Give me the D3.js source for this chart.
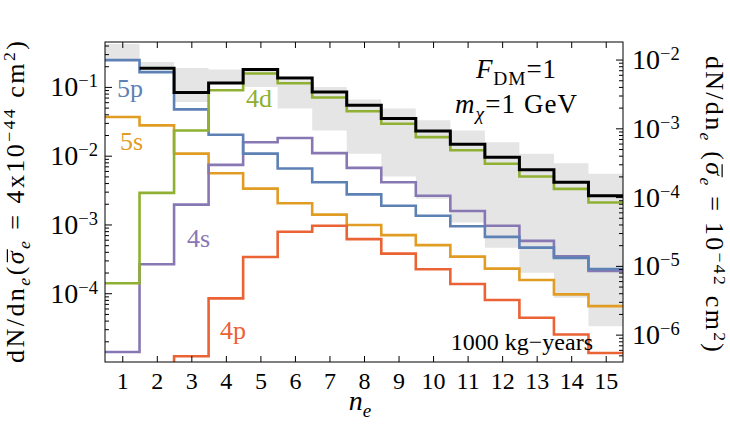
<!DOCTYPE html>
<html>
<head>
<meta charset="utf-8">
<script src="https://cdn.jsdelivr.net/npm/d3@7"></script>
<style>
  body { margin: 0; background: #fff; }
  text { font-family: "Liberation Serif", "DejaVu Serif", serif; }
  .axis path.domain { display: none; }
  .axis line { stroke: #000; stroke-width: 1; }
</style>
</head>
<body>
<div id="chart"></div>
<script>
// values, one per bin n_e = 1..15
var ne = d3.range(1, 16);
var total   = [null, 0.187, 0.0828, 0.114, 0.179, 0.135, 0.0845, 0.054, 0.0346, 0.0228, 0.0147, 0.0095, 0.00622, 0.0041, 0.00262];
var shell5p = [0.245, 0.164, 0.0472, 0.0202, 0.0107, 0.0065, 0.0041, 0.00274, 0.00187, 0.00134, 0.00094, 0.00066, 0.00046, 0.000327, 0.000225];
var shell5s = [0.0365, 0.0276, 0.0107, 0.00556, 0.00332, 0.00203, 0.00139, 0.00098, 0.0007, 0.0005, 0.000341, 0.000228, 0.000156, 0.0000964, 0.000065];
var shell4d = [0.00014, 0.00288, 0.0233, 0.0895, 0.157, 0.113, 0.070, 0.0442, 0.0292, 0.0186, 0.0120, 0.00762, 0.00497, 0.00329, 0.00209];
var shell4s = [0.000014, 0.000264, 0.00194, 0.00736, 0.0157, 0.0181, 0.0109, 0.00665, 0.0041, 0.00262, 0.00157, 0.000957, 0.000578, 0.000344, 0.000211];
var shell4p = [null, 0.000004, 0.0000121, 0.0000843, 0.000337, 0.000782, 0.000957, 0.000612, 0.000377, 0.000223, 0.000136, 0.0000796, 0.0000439, 0.0000251, 0.0000135];
// grey uncertainty band
var bandLow  = [0.245, 0.187, 0.0604, 0.114, 0.1, 0.0484, 0.0233, 0.0107, 0.00497, 0.00237, 0.00107, 0.00046, 0.000199, 0.0000859, 0.0000332];
var bandHigh = [0.42, 0.23, 0.189, 0.179, 0.175, 0.125, 0.1, 0.0655, 0.0484, 0.0327, 0.0233, 0.0157, 0.0107, 0.00778, 0.00544];

var xTicks = d3.range(1, 16);
var leftTicks = [1e-4, 1e-3, 1e-2, 1e-1];
var rightTicks = [1e-6, 1e-5, 1e-4, 1e-3, 1e-2];
var rightFactor = 0.04; // right axis = left axis * 4e-44/1e-42

var margin = { top: 42, left: 105, right: 107, bottom: 76 },
  width = 730 - margin.left - margin.right,
  height = 438 - margin.top - margin.bottom;

var svg = d3.select("#chart")
  .append("svg")
  .attr("width", 730)
  .attr("height", 438)
  .append("g")
  .attr("transform", "translate(" + margin.left + "," + margin.top + ")");

var xPositionScale = d3.scaleLinear().domain([0.5, 15.5]).range([0, width]);
var yPositionScale = d3.scaleLog().domain([1e-5, 0.45]).range([height, 0]);
var yRightScale = d3.scaleLog()
  .domain([1e-5 * rightFactor, 0.45 * rightFactor]).range([height, 0]);

svg.append("clipPath").attr("id", "plot-clip")
  .append("rect").attr("width", width).attr("height", height);

function steps(vals) {
  var pts = ne.map(function(n, i) { return { x: n - 0.5, v: vals[i] }; });
  pts.push({ x: ne[ne.length - 1] + 0.5, v: vals[vals.length - 1] });
  return pts;
}

var plot = svg.append("g").attr("clip-path", "url(#plot-clip)");

// grey band
var bandPts = ne.map(function(n, i) { return { x: n - 0.5, lo: bandLow[i], hi: bandHigh[i] }; });
bandPts.push({ x: 15.5, lo: bandLow[14], hi: bandHigh[14] });
var area = d3.area().curve(d3.curveStepAfter)
  .x(function(d) { return xPositionScale(d.x); })
  .y0(function(d) { return yPositionScale(d.lo); })
  .y1(function(d) { return yPositionScale(d.hi); });
plot.append("path").datum(bandPts)
  .attr("d", area)
  .attr("fill", "#e5e5e5");

var line = d3.line().curve(d3.curveStepAfter)
  .defined(function(d) { return d.v != null; })
  .x(function(d) { return xPositionScale(d.x); })
  .y(function(d) { return yPositionScale(d.v); });

var series = [
  { name: "5s", values: shell5s, color: "#E19C24" },
  { name: "4p", values: shell4p, color: "#EB6235" },
  { name: "4s", values: shell4s, color: "#8778B3" },
  { name: "5p", values: shell5p, color: "#5E81B5" },
  { name: "4d", values: shell4d, color: "#8FB032" },
  { name: "total", values: total, color: "#000" }
];

plot.selectAll(".series")
  .data(series)
  .enter().append("path")
  .attr("class", "series")
  .attr("d", function(d) { return line(steps(d.values)); })
  .attr("fill", "none")
  .attr("stroke", function(d) { return d.color; })
  .attr("stroke-width", function(d) { return d.name == "total" ? 3 : 2.6; })
  .attr("stroke-linejoin", "miter");

// minor ticks for log axes
function minorTicks(scale) {
  var dom = scale.domain(), out = [];
  for (var e = Math.floor(Math.log10(dom[0])); e <= Math.ceil(Math.log10(dom[1])); e++) {
    for (var k = 2; k <= 9; k++) {
      var v = k * Math.pow(10, e);
      if (v > dom[0] && v < dom[1]) out.push(v);
    }
  }
  return out;
}

function powerLabel(sel, size) {
  sel.selectAll(".tick text").each(function(d) {
    var p = Math.round(Math.log10(d));
    var t = d3.select(this).text("").attr("font-size", size);
    t.append("tspan").text("10");
    t.append("tspan").attr("dy", -size * 0.32).attr("font-size", size * 0.66).text("\u2212" + Math.abs(p));
  });
}

// bottom axis
svg.append("g")
  .attr("class", "axis x-axis")
  .attr("transform", "translate(0," + height + ")")
  .call(d3.axisBottom(xPositionScale).tickValues(xTicks).tickSizeInner(-6).tickSizeOuter(0).tickPadding(10))
  .selectAll("text").attr("font-size", 24);

// top axis
svg.append("g")
  .attr("class", "axis")
  .call(d3.axisTop(xPositionScale).tickValues(xTicks).tickSizeInner(-6).tickSizeOuter(0).tickFormat(""));

// left axis
var yAxis = svg.append("g")
  .attr("class", "axis y-axis")
  .call(d3.axisLeft(yPositionScale).tickValues(leftTicks).tickSizeInner(-7).tickSizeOuter(0).tickPadding(7));
powerLabel(yAxis, 28);
svg.append("g")
  .attr("class", "axis")
  .call(d3.axisLeft(yPositionScale).tickValues(minorTicks(yPositionScale)).tickSizeInner(-4).tickSizeOuter(0).tickFormat(""));

// right axis
var yAxisRight = svg.append("g")
  .attr("class", "axis y-axis-right")
  .attr("transform", "translate(" + width + ",0)")
  .call(d3.axisRight(yRightScale).tickValues(rightTicks).tickSizeInner(-7).tickSizeOuter(0).tickPadding(9));
powerLabel(yAxisRight, 28);
svg.append("g")
  .attr("class", "axis")
  .attr("transform", "translate(" + width + ",0)")
  .call(d3.axisRight(yRightScale).tickValues(minorTicks(yRightScale)).tickSizeInner(-4).tickSizeOuter(0).tickFormat(""));

// frame
svg.append("rect")
  .attr("width", width).attr("height", height)
  .attr("fill", "none").attr("stroke", "#000").attr("stroke-width", 1);

// rich text helper: parts with optional sub/sup/italic/overbar
function richText(g, x, y, parts, size, len, anchor, subScale) {
  var text = g.append("text").attr("x", x).attr("y", y)
    .attr("text-anchor", anchor || "start");
  var shift = 0, bars = [], ss = subScale || 0.68;
  parts.forEach(function(p) {
    var target = p.sub ? size * 0.25 : (p.sup ? -size * 0.32 : 0);
    var ts = text.append("tspan").text(p.t)
      .attr("dy", target - shift)
      .attr("font-size", (p.sub || p.sup) ? size * ss : size);
    if (p.it) ts.attr("font-style", "italic");
    if (p.over) bars.push(ts);
    shift = target;
  });
  if (len) text.attr("textLength", len).attr("lengthAdjust", "spacing");
  bars.forEach(function(ts) {
    var b = ts.node().getBBox();
    g.append("line")
      .attr("x1", b.x + 2).attr("x2", b.x + b.width + 1)
      .attr("y1", y - size * 0.62).attr("y2", y - size * 0.62)
      .attr("stroke", "#000").attr("stroke-width", 1.2);
  });
  return text;
}

// left title
var leftTitle = svg.append("g")
  .attr("transform", "translate(" + (23.5 - margin.left) + "," + (height / 2) + ") rotate(-90)");
richText(leftTitle, 0, 0, [
  { t: "dN/dn" }, { t: "e", sub: true, it: true }, { t: "(" },
  { t: "\u03c3", it: true, over: true }, { t: "e", sub: true, it: true },
  { t: " = 4x10" }, { t: "\u221244", sup: true }, { t: " cm" }, { t: "2", sup: true }, { t: ")" }
], 26, 322, "middle");

// right title
var rightTitle = svg.append("g")
  .attr("transform", "translate(" + (width + 83) + "," + (height / 2 + 2) + ") rotate(90)");
richText(rightTitle, 0, 0, [
  { t: "dN/dn" }, { t: "e", sub: true, it: true }, { t: " (" },
  { t: "\u03c3", it: true, over: true }, { t: "e", sub: true, it: true },
  { t: " = 10" }, { t: "\u221242", sup: true }, { t: " cm" }, { t: "2", sup: true }, { t: ")" }
], 26, 296, "middle");

// x title
richText(svg, width / 2 - 4, height + 48, [{ t: "n", it: true }, { t: "e", sub: true, it: true }], 28, null, "middle");

// annotations
richText(svg, 371, 36, [{ t: "F", it: true }, { t: "DM", sub: true }, { t: "=1" }], 27, 80, "start", 0.72);
richText(svg, 350, 71, [{ t: "m", it: true }, { t: "\u03c7", sub: true, it: true }, { t: "=1 GeV" }], 27, 122, "start", 0.72);
svg.append("text").attr("x", 488).attr("y", 308)
  .attr("font-size", 24)
  .attr("text-anchor", "end")
  .text("1000 kg\u2212years");

var labels = [
  { t: "5p", x: 12, y: 55, c: "#5E81B5" },
  { t: "5s", x: 15, y: 108, c: "#E19C24" },
  { t: "4d", x: 141, y: 65, c: "#8FB032" },
  { t: "4s", x: 82, y: 205, c: "#8778B3" },
  { t: "4p", x: 115, y: 297, c: "#EB6235" }
];
svg.selectAll(".shell-label")
  .data(labels)
  .enter().append("text")
  .attr("class", "shell-label")
  .attr("x", function(d) { return d.x; })
  .attr("y", function(d) { return d.y; })
  .attr("font-size", 26)
  .attr("fill", function(d) { return d.c; })
  .text(function(d) { return d.t; });
</script>
</body>
</html>
